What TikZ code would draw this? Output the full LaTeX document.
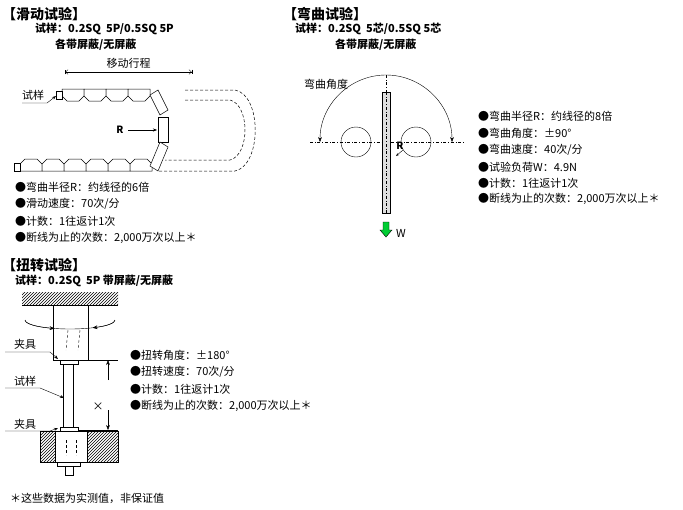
\documentclass[tikz,border=0pt]{standalone}
\usepackage{fontspec}
\setmainfont{Noto Sans CJK SC}
\usetikzlibrary{patterns,arrows.meta}
\tikzset{
  ttl/.style={anchor=west,inner sep=0pt,font=\fontsize{14}{14}\selectfont\bfseries},
  sub/.style={anchor=west,inner sep=0pt,font=\fontsize{11}{11}\selectfont\bfseries},
  itm/.style={anchor=west,inner sep=0pt,font=\fontsize{11}{11}\selectfont},
  lbl/.style={inner sep=0pt,font=\fontsize{11}{11}\selectfont},
  link/.style={draw,fill=white,line width=0.5pt},
  ghost/.style={draw,densely dashed,line width=0.5pt},
}
\begin{document}
\begin{tikzpicture}[x=1pt,y=-1pt]
\useasboundingbox (0,0) rectangle (683,509);
% slide test
\node[ttl] (t1) at (2,14) {【滑动试验】};
\node[sub] (s1) at (35,29) {试样：0.2SQ\ \ 5P/0.5SQ 5P};
\node[sub] (s1b) at (55,45) {各带屏蔽/无屏蔽};
\coordinate (m0) at (65,72);
\coordinate (m1) at (192,72);
\draw[{Bar[]Straight Barb[]}-{Straight Barb[]Bar[]}] (m0) -- node[lbl,above=3pt] {移动行程} (m1);
\foreach \i in {0,...,3}
  \draw[link] (62+\i*22,89) -- ++(22,0) -- ++(0,7) -- ++(-5,5) -- ++(-12,0) -- ++(-5,-5) -- cycle;
\foreach \i in {0,...,5}
  \draw[link] (20+\i*22,171) -- ++(22,0) -- ++(0,-7) -- ++(-5,-5) -- ++(-12,0) -- ++(-5,5) -- cycle;
\draw[link] (56,91) rectangle (62,99);
\draw[link] (14,163) rectangle (20,171);
\draw[link] (150,95) -- (158,90) -- (168,110) -- (160,115) -- cycle;
\draw[link] (158,117) -- (168,117) -- (168,142) -- (158,142) -- cycle;
\draw[link] (150,166) -- (160,142) -- (168,147) -- (158,171) -- cycle;
\draw[ghost] (185,90) -- (235,90) .. controls (262,95) and (262,165) .. (235,171) -- (158,171);
\draw[ghost] (185,100) -- (230,100) .. controls (250,105) and (250,155) .. (230,160) -- (165,160);
\node[lbl] (sp1) at (33,95) {试样};
\draw[-{Stealth[length=4pt]}] (22,103) -- (47,103) -- (56,96);
\node[lbl,font=\bfseries] (R1) at (120,130) {R};
\draw[-{Stealth[length=4pt]}] (128,130) -- (157,130);
\node[itm] (a1) at (15,187) {●弯曲半径R：约线径的6倍};
\node[itm] (a2) at (15,204) {●滑动速度：70次/分};
\node[itm] (a3) at (15,221) {●计数：1往返计1次};
\node[itm] (a4) at (15,238) {●断线为止的次数：2,000万次以上＊};
% bend test
\node[ttl] (t2) at (283,14) {【弯曲试验】};
\node[sub] (s2) at (295,29) {试样：0.2SQ\ \ 5芯/0.5SQ 5芯};
\node[sub] (s2b) at (335,45) {各带屏蔽/无屏蔽};
\draw[dash dot] (310,142) -- (465,142);
\draw[dash dot] (386,75) -- (386,215);
\draw (356,142) circle[radius=15];
\draw (416,142) circle[radius=15];
\draw[fill=gray!25] (382,92) rectangle (390,213);
\draw[dash dot] (386,92) -- (386,213);
\draw[-{Stealth[length=5pt]}] (386,75) arc[start angle=90,end angle=180,x radius=66,y radius=-67];
\draw[-{Stealth[length=5pt]}] (386,75) arc[start angle=90,end angle=0,x radius=66,y radius=-67];
\node[lbl] (ang) at (326,84) {弯曲角度};
\node[lbl,font=\bfseries] (R2) at (400,146) {R};
\draw[-{Stealth[length=3pt]}] (403,150) -- (396,156);
\draw[fill=green!60!teal] (383,222) -- (389,222) -- (389,230) -- (392,230) -- (386,237) -- (380,230) -- (383,230) -- cycle;
\node[lbl] (w) at (401,233) {W};
\node[itm] (b1) at (478,116) {●弯曲半径R：约线径的8倍};
\node[itm] (b2) at (478,133) {●弯曲角度：±90°};
\node[itm] (b3) at (478,150) {●弯曲速度：40次/分};
\node[itm] (b4) at (478,167) {●试验负荷W：4.9N};
\node[itm] (b5) at (478,183) {●计数：1往返计1次};
\node[itm] (b6) at (478,199) {●断线为止的次数：2,000万次以上＊};
% twist test
\node[ttl] (t3) at (2,265) {【扭转试验】};
\node[sub] (s3) at (15,281) {试样：0.2SQ\ \ 5P 带屏蔽/无屏蔽};
\path[pattern=north east lines] (22,292) rectangle (118,305);
\draw (22,305) -- (118,305);
\draw (53,305) rectangle (88,360);
\draw (25,320) arc[start angle=180,end angle=360,x radius=45,y radius=-9];
\draw[-{Stealth[length=5pt]}] (25,320) arc[start angle=180,end angle=110,x radius=45,y radius=9];
\draw[-{Stealth[length=5pt]}] (115,320) arc[start angle=0,end angle=60,x radius=45,y radius=9];
\draw[densely dashed] (68,330) -- (66,350);
\draw[densely dashed] (80,330) -- (78,350);
\draw (60,360) rectangle (78,364);
\draw (63,364) rectangle (73,427);
\draw (60,427) rectangle (78,431);
\path[pattern=north east lines] (40,431) rectangle (55,462);
\path[pattern=north east lines] (87,431) rectangle (118,462);
\draw (40,431) rectangle (118,462);
\draw (55,431) rectangle (87,462);
\draw[densely dashed] (66,440) -- (66,455);
\draw[densely dashed] (76,440) -- (76,455);
\draw (57,462) rectangle (80,466);
\draw (65,466) rectangle (73,475);
\draw (88,360) -- (118,360);
\draw (78,430) -- (118,430);
\draw[-{Stealth[length=5pt]}] (108,380) -- (108,360);
\draw[-{Stealth[length=5pt]}] (108,410) -- (108,430);
\node[lbl] (x) at (98,407) {×};
\node[lbl] (c1) at (25,344) {夹具};
\draw[-{Stealth[length=4pt]}] (5,352) -- (50,352) -- (58,359);
\node[lbl] (sp3) at (25,381) {试样};
\draw[-{Stealth[length=4pt]}] (5,388) -- (40,388) -- (64,398);
\node[lbl] (c2) at (25,424) {夹具};
\draw[-{Stealth[length=4pt]}] (5,431) -- (50,431) -- (58,428);
\node[itm] (c3) at (130,355) {●扭转角度：±180°};
\node[itm] (c4) at (130,372) {●扭转速度：70次/分};
\node[itm] (c5) at (130,389) {●计数：1往返计1次};
\node[itm] (c6) at (130,406) {●断线为止的次数：2,000万次以上＊};
\node[itm] (fn) at (10,498) {＊这些数据为实测值，非保证值};
\end{tikzpicture}
\end{document}
